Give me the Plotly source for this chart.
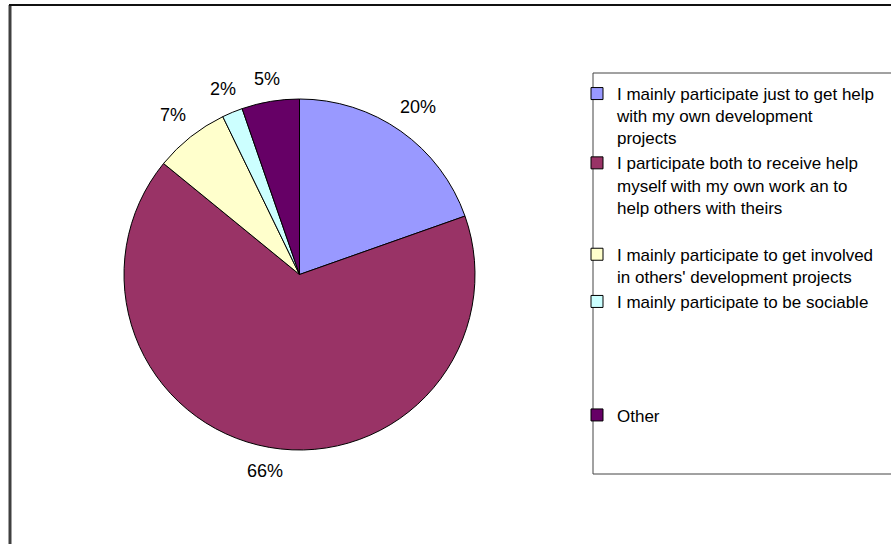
import math
import plotly.graph_objects as go

labels = [
    "I mainly participate just to get help<br>with my own development<br>projects",
    "I participate both to receive help<br>myself with my own work an to<br>help others with theirs<br>&nbsp;",
    "I mainly participate to get involved<br>in others' development projects",
    "I mainly participate to be sociable<br>&nbsp;<br>&nbsp;<br>&nbsp;<br>&nbsp;",
    "Other",
]
values = [19.6, 66.3, 6.9, 1.9, 5.3]
colors = ["#9999FF", "#993366", "#FFFFCC", "#CCFFFF", "#660066"]

W, H = 891, 544
# pie placement in pixels (centre and radius)
CX, CY, R = 299.5, 274.5, 175.5

fig = go.Figure(go.Pie(
    labels=labels,
    values=values,
    sort=False,
    direction="clockwise",
    rotation=0,
    marker=dict(colors=colors, line=dict(color="black", width=1)),
    textinfo="none",
    domain=dict(x=[(CX - R) / W, (CX + R) / W], y=[1 - (CY + R) / H, 1 - (CY - R) / H]),
    showlegend=True,
    hoverinfo="label+percent",
))

# percentage labels placed outside each slice, derived from the data
total = sum(values)
annotations = []
cum = 0.0
for v in values:
    mid = (cum + v / 2) / total * 2 * math.pi
    cum += v
    txt = f"{round(100 * v / total)}%"
    tw = 9.5 * (len(txt) - 1) + 17
    th = 14
    sx, sy = math.sin(mid), -math.cos(mid)
    dist = R + 14 + (tw / 2) * abs(sx) + (th / 2) * abs(sy)
    px, py = CX + dist * sx, CY + dist * sy
    annotations.append(dict(
        x=px / W, y=1 - py / H, xref="paper", yref="paper",
        text=txt, showarrow=False, xanchor="center", yanchor="middle",
        font=dict(size=18, color="black", family="Arial, Liberation Sans"),
    ))

fig.update_layout(
    width=W, height=H,
    margin=dict(l=0, r=0, t=0, b=0),
    paper_bgcolor="white",
    plot_bgcolor="white",
    font=dict(family="Arial, Liberation Sans", size=17, color="black"),
    legend=dict(
        x=577 / W, xanchor="left",
        y=1 - 76 / H, yanchor="top",
        valign="top",
        bgcolor="rgba(0,0,0,0)",
        borderwidth=0,
        font=dict(size=17, color="black"),
        traceorder="normal",
    ),
    annotations=annotations,
    shapes=[
        # legend box (right edge clipped, as in the original)
        dict(type="rect", xref="paper", yref="paper",
             x0=593 / W, x1=1.02, y0=1 - 474 / H, y1=1 - 73 / H,
             line=dict(color="#444444", width=1), fillcolor="rgba(0,0,0,0)", layer="below"),
        # outer chart border (left & top visible)
        dict(type="line", xref="paper", yref="paper",
             x0=10 / W, x1=10 / W, y0=-0.01, y1=1 - 5 / H,
             line=dict(color="#404040", width=3)),
        dict(type="line", xref="paper", yref="paper",
             x0=9 / W, x1=1.01, y0=1 - 5 / H, y1=1 - 5 / H,
             line=dict(color="#111111", width=2)),
    ],
)

fig.write_html(
    "out.html",
    config={"displayModeBar": False},
    post_script="document.body.style.margin='0';document.body.style.overflow='hidden';",
)
